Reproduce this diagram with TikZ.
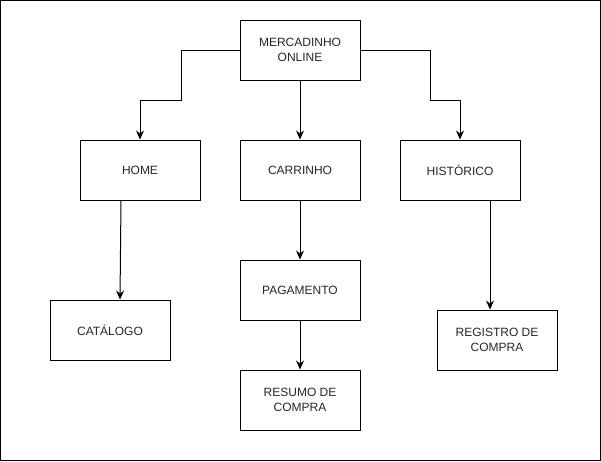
\documentclass[tikz,border=0pt]{standalone}
\usepackage{fontspec}
\setmainfont{Liberation Sans}
\usetikzlibrary{arrows.meta}
\begin{document}
\begin{tikzpicture}[x=1pt,y=-1pt,
  box/.style={draw=black,line width=1pt,minimum width=120pt,minimum height=60pt,inner sep=0pt,align=center,font=\fontsize{12}{14.5}\selectfont,text=black!85},
  link/.style={draw=black,line width=1pt,-{Stealth[length=9pt,width=8pt,inset=3pt]}}]
\useasboundingbox (0,0) rectangle (601,461);
\draw[line width=1pt] (0.5,0.5) rectangle (600,460);
\node[box] (top) at (300,50) {MERCADINHO\\ONLINE};
\node[box] (home) at (140,170) {HOME};
\node[box] (carr) at (300,170) {CARRINHO};
\node[box] (hist) at (460,170) {HISTÓRICO};
\node[box] (cat) at (110,330) {CATÁLOGO};
\node[box] (pag) at (300,290) {PAGAMENTO};
\node[box] (res) at (300,400) {RESUMO DE\\COMPRA};
\node[box] (reg) at (497,340) {REGISTRO DE\\COMPRA};
\draw[link] (top.west) -| (181,100) -| (home.north);
\draw[link] (top.south) -- (carr.north);
\draw[link] (top.east) -| (430,100) -| (hist.north);
\draw[link] ([xshift=-19pt]home.south) -- ([xshift=10pt]cat.north);
\draw[link] (carr.south) -- (pag.north);
\draw[link] (pag.south) -- (res.north);
\draw[link] ([xshift=30pt]hist.south) -- ([xshift=-7pt]reg.north);
\end{tikzpicture}
\end{document}
